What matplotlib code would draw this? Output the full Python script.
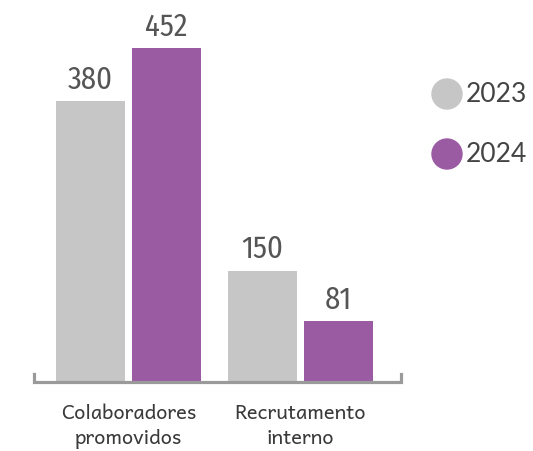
import matplotlib
matplotlib.use("Agg")
import matplotlib.pyplot as plt
from matplotlib.patches import Ellipse

categories = ["Colaboradores\npromovidos", "Recrutamento\ninterno"]
years = ["2023", "2024"]
values_2023 = [380, 150]
values_2024 = [452, 81]
colors = ["#c6c6c6", "#9b5ba3"]

W, H = 533, 452
fig = plt.figure(figsize=(W / 100, H / 100), dpi=100)
ax_left, ax_right = 33, 402
base_y = 382
ax = fig.add_axes([ax_left / W, (H - base_y) / H, (ax_right - ax_left) / W, (base_y - 14) / H])
ax.set_xlim(-0.555, 1.59)
ax.set_ylim(0, 500)

x = list(range(len(categories)))
off, bw = 0.221, 0.401
series = [values_2023, values_2024]
for i, vals in enumerate(series):
    xs = [xi + (i * 2 - 1) * off for xi in x]
    ax.bar(xs, vals, width=bw, color=colors[i], zorder=2)
    for xb, v in zip(xs, vals):
        ax.text(xb, v + 10, str(v), ha="center", va="bottom",
                fontsize=22, color="#555555", fontweight="normal",
                family=["Fira Sans Condensed", "DejaVu Sans"], zorder=3)

# baseline with end ticks
xl = ax.get_xlim()
span = xl[1] - xl[0]
ax.plot([xl[0] + 0.004 * span, xl[0] + 0.004 * span, xl[1] - 0.004 * span, xl[1] - 0.004 * span],
        [10, -2, -2, 10], color="#9a9a9a", lw=2.3, solid_joinstyle="miter",
        zorder=4, clip_on=False)

for s in ax.spines.values():
    s.set_visible(False)
ax.set_yticks([])
ax.set_xticks(x)
ax.set_xticklabels(categories, fontsize=14.5, color="#3a3a3a",
                   family=["Andika", "DejaVu Sans"])
for t in ax.get_xticklabels():
    t.set_linespacing(1.3)
ax.tick_params(axis="x", length=0, pad=16)

# legend
for i, (yr, c) in enumerate(zip(years, colors)):
    cy = 95 + 60 * i
    fig.patches.append(Ellipse((447 / W, 1 - cy / H), 30 / W, 30 / H, color=c,
                               transform=fig.transFigure))
    fig.text(466 / W, 1 - cy / H, yr, fontsize=19, color="#444444",
             family="Lato", va="center", ha="left")

fig.savefig("out.png", dpi=100)
